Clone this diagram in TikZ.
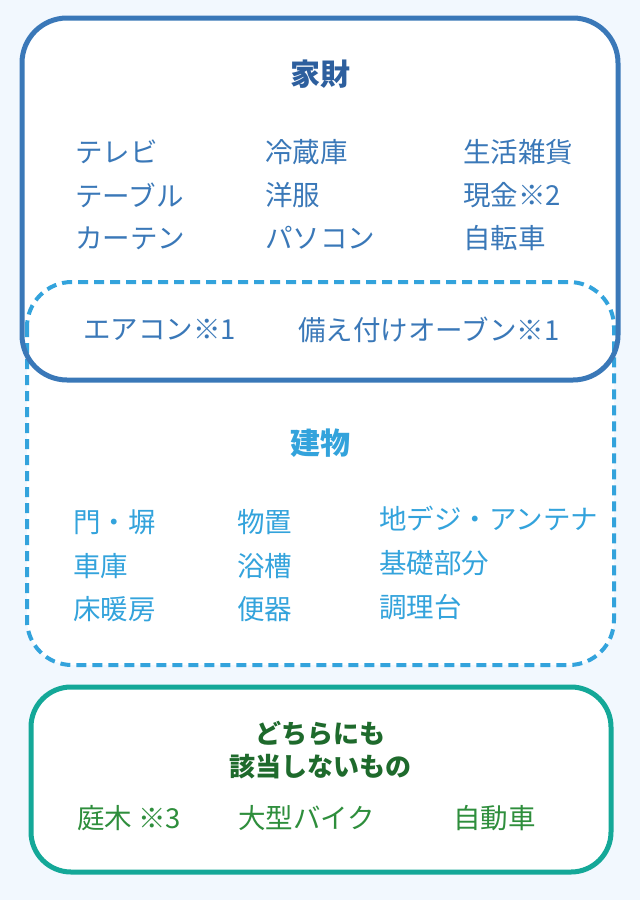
\documentclass[tikz,border=0pt]{standalone}
\usepackage{fontspec}
\setmainfont{Noto Sans CJK JP}
\definecolor{bg}{HTML}{F2F8FE}
\definecolor{kblue}{HTML}{3A78B8}
\definecolor{ktitle}{HTML}{2D5F9E}
\definecolor{lblue}{HTML}{33A3DC}
\definecolor{teal}{HTML}{14A898}
\definecolor{gtitle}{HTML}{1E6A2C}
\definecolor{gitem}{HTML}{2E8E3C}
\begin{document}
\begin{tikzpicture}[x=1pt,y=-1pt,
  it/.style={anchor=west,font=\fontsize{27.5}{32}\selectfont,inner sep=0},
  kz/.style={it,text=kblue},
  tm/.style={it,text=lblue},
  gi/.style={it,text=gitem}]
\fill[bg] (0,0) rectangle (640,900);
\useasboundingbox (0,0) rectangle (640,900);
\fill[white,rounded corners=45] (22,18) rectangle (618,380);
\fill[white,rounded corners=45] (27,282) rectangle (614,665);
\draw[lblue,line width=4,dash pattern=on 10pt off 6pt,rounded corners=45] (27,282) rectangle (614,665);
\draw[kblue,line width=5,rounded corners=45] (22,18) rectangle (618,380);
\draw[teal,line width=5,fill=white,rounded corners=40] (31,687) rectangle (611,872);
\node[text=ktitle,font=\bfseries\fontsize{30}{34}\selectfont] (t1) at (320,74) {家財};
\node[kz] (a1) at (75,152) {テレビ};
\node[kz] (a2) at (75,195) {テーブル};
\node[kz] (a3) at (75,238) {カーテン};
\node[kz] (b1) at (265,152) {冷蔵庫};
\node[kz] (b2) at (265,195) {洋服};
\node[kz] (b3) at (265,238) {パソコン};
\node[kz] (c1) at (463,152) {生活雑貨};
\node[kz] (c2) at (463,195) {現金※2};
\node[kz] (c3) at (463,238) {自転車};
\node[kz] (d1) at (83,330) {エアコン※1};
\node[kz] (d2) at (298,330) {備え付けオーブン※1};
\node[text=lblue,font=\bfseries\fontsize{30}{34}\selectfont] (t2) at (320,443) {建物};
\node[tm] (e1) at (73,522) {門・塀};
\node[tm] (e2) at (73,566) {車庫};
\node[tm] (e3) at (73,609) {床暖房};
\node[tm] (f1) at (237,522) {物置};
\node[tm] (f2) at (237,566) {浴槽};
\node[tm] (f3) at (237,609) {便器};
\node[tm] (g1) at (379,519) {地デジ・アンテナ};
\node[tm] (g2) at (379,563) {基礎部分};
\node[tm] (g3) at (379,607) {調理台};
\node[text=gtitle,font=\bfseries\fontsize{26}{33}\selectfont,align=center] (t3) at (320,750) {どちらにも\\該当しないもの};
\node[gi] (h1) at (77,818) {庭木 ※3};
\node[gi] (h2) at (238,818) {大型バイク};
\node[gi] (h3) at (453,818) {自動車};
\end{tikzpicture}
\end{document}
